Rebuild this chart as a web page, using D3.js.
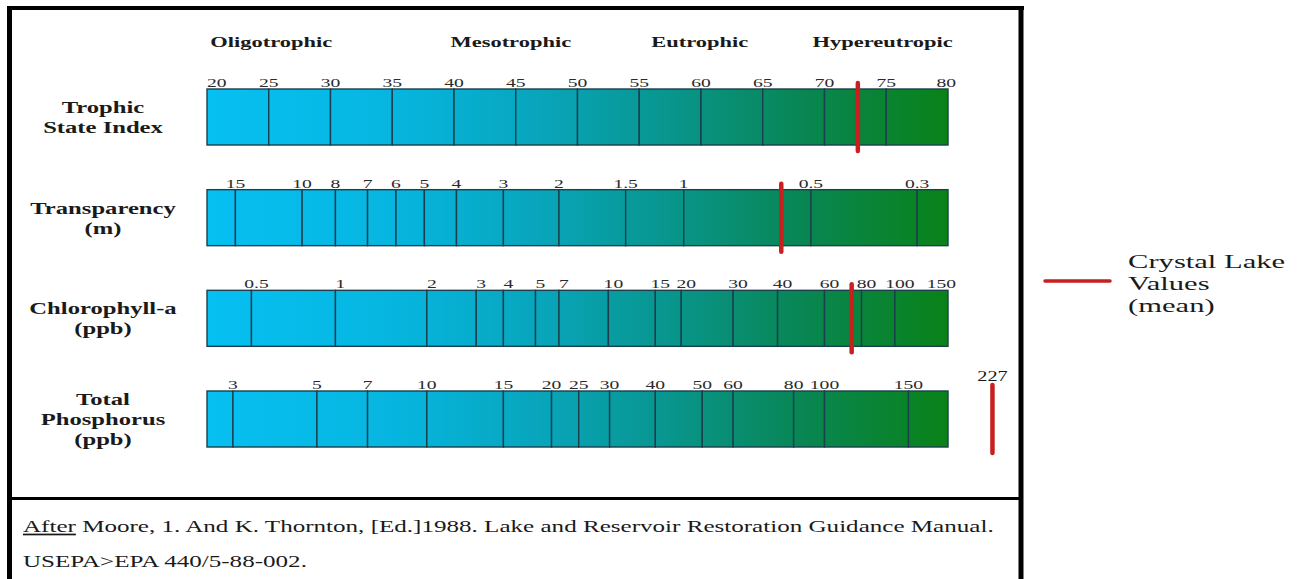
<!DOCTYPE html>
<html><head><meta charset="utf-8">
<script src="https://cdn.jsdelivr.net/npm/d3@7/dist/d3.min.js"></script>
<style>html,body{margin:0;padding:0;background:#fff;overflow:hidden}</style>
</head><body>
<svg id="chart" width="1301" height="579"></svg>
<script>
// ---------------- data ----------------
const rowNames = ["Trophic State Index", "Transparency (m)", "Chlorophyll-a (ppb)", "Total Phosphorus (ppb)"];
const rowLabelLines = [["Trophic", "State Index"], ["Transparency", "(m)"], ["Chlorophyll-a", "(ppb)"], ["Total", "Phosphorus", "(ppb)"]];
const trophicClasses = ["Oligotrophic", "Mesotrophic", "Eutrophic", "Hypereutropic"];
const trophicClassTSI = [25.2, 44.6, 59.9, 74.7];

const tsiTickLabels = ["20", "25", "30", "35", "40", "45", "50", "55", "60", "65", "70", "75", "80"];
const tsiTickTSI = [20, 25, 30, 35, 40, 45, 50, 55, 60, 65, 70, 75, 80];

const transparencyTickLabels = ["15", "10", "8", "7", "6", "5", "4", "3", "2", "1.5", "1", "0.5", "0.3"];
const transparencyTickTSI = [22.3, 27.7, 30.4, 33.0, 35.3, 37.6, 40.2, 44.0, 48.5, 53.9, 58.6, 68.9, 77.5];

const chlorophyllTickLabels = ["0.5", "1", "2", "3", "4", "5", "7", "10", "15", "20", "30", "40", "60", "80", "100", "150"];
const chlorophyllTickTSI = [23.6, 30.4, 37.8, 41.8, 44.0, 46.6, 48.5, 52.5, 56.3, 58.4, 62.6, 66.2, 70.0, 73.0, 75.7, 80];

const phosphorusTickLabels = ["3", "5", "7", "10", "15", "20", "25", "30", "40", "50", "60", "80", "100", "150"];
const phosphorusTickTSI = [22.1, 28.9, 33.0, 37.8, 44.0, 47.9, 50.1, 52.6, 56.3, 60.1, 62.6, 67.5, 70.0, 76.8];

const crystalLakeTSI = [72.7, 66.5, 72.2, 83.6];
const crystalLakeLabels = ["", "", "", "227"];

const legendLines = ["Crystal Lake", "Values", "(mean)"];
const footerLine1 = ["After", " Moore, 1. And K. Thornton, [Ed.]1988. Lake and Reservoir Restoration Guidance Manual."];
const footerLine2 = "USEPA>EPA 440/5-88-002.";

// ---------------- layout / style ----------------
const SX = 1.45;           // horizontal stretch of the original artwork
const FONT = "'Liberation Serif', 'Times New Roman', serif";
const RED = "#c8201e";
const tickLabelsByRow = [tsiTickLabels, transparencyTickLabels, chlorophyllTickLabels, phosphorusTickLabels];
const tickTSIByRow = [tsiTickTSI, transparencyTickTSI, chlorophyllTickTSI, phosphorusTickTSI];
const labelShift = [0, 0, 5, 0];

const svg = d3.select("#chart");
const x = d3.scaleLinear().domain([20, 80]).range([207, 948]);
const y = d3.scalePoint().domain(rowNames).range([117, 419]);
const barH = 56;

function stext(g, px, py, txt, sx = SX) {
  return g.append("text")
    .attr("transform", `translate(${px},${py}) scale(${sx},1)`)
    .attr("font-family", FONT)
    .text(txt);
}

// gradient
const defs = svg.append("defs");
const grad = defs.append("linearGradient").attr("id", "tsiGrad")
  .attr("gradientUnits", "userSpaceOnUse")
  .attr("x1", x(20)).attr("x2", x(80)).attr("y1", 0).attr("y2", 0);
[[0, "#06c0f2"], [0.25, "#06b6e0"], [0.45, "#08a5bb"], [0.62, "#08968e"], [0.8, "#088654"], [1, "#0a8218"]]
  .forEach(([o, c]) => grad.append("stop").attr("offset", o).attr("stop-color", c));

// frame
const frame = svg.append("g").attr("fill", "none").attr("stroke", "#000");
frame.append("line").attr("x1", 7).attr("x2", 1024).attr("y1", 8).attr("y2", 8).attr("stroke-width", 4);
frame.append("line").attr("x1", 9.5).attr("x2", 9.5).attr("y1", 6).attr("y2", 590).attr("stroke-width", 5);
frame.append("line").attr("x1", 1021).attr("x2", 1021).attr("y1", 6).attr("y2", 590).attr("stroke-width", 5);
frame.append("line").attr("x1", 9).attr("x2", 1022).attr("y1", 498.5).attr("y2", 498.5).attr("stroke-width", 3);

// trophic class headers
const hdr = svg.append("g");
trophicClasses.forEach((c, i) => {
  stext(hdr, x(trophicClassTSI[i]), 47, c)
    .attr("text-anchor", "middle").attr("font-weight", "bold").attr("font-size", 15.5).attr("fill", "#1a1a1a");
});

// rows
rowNames.forEach((name, r) => {
  const g = svg.append("g");
  const cy = y(name);
  const top = cy - barH / 2;
  const labels = tickLabelsByRow[r];
  const tsis = tickTSIByRow[r];
  const bounds = Array.from(new Set([20, ...tsis, 80])).sort((a, b) => a - b);
  const segs = d3.pairs(bounds);

  g.selectAll("rect.seg").data(segs).join("rect")
    .attr("class", "seg")
    .attr("x", d => x(d[0])).attr("width", d => x(d[1]) - x(d[0]))
    .attr("y", top).attr("height", barH)
    .attr("fill", "url(#tsiGrad)")
    .attr("stroke", "#1b3f4c").attr("stroke-width", 1.4);

  // tick labels
  labels.forEach((lab, i) => {
    const v = tsis[i];
    let anchor = "middle", px = x(v) + labelShift[r];
    if (v <= 20) { anchor = "start"; px = x(v); }
    else if (v >= 80) { anchor = "end"; px = x(v) + 8; }
    stext(g, px, top - 2, lab)
      .attr("text-anchor", anchor).attr("font-size", 13.5).attr("fill", "#2a2a2a");
  });

  // row label
  const lines = rowLabelLines[r];
  const L = 20;
  lines.forEach((ln, j) => {
    stext(g, 103, cy - (lines.length - 1) * L / 2 + 6 + j * L, ln)
      .attr("text-anchor", "middle").attr("font-weight", "bold").attr("font-size", 17).attr("fill", "#1a1a1a");
  });

  // Crystal Lake mean marker
  g.append("line")
    .attr("x1", x(crystalLakeTSI[r])).attr("x2", x(crystalLakeTSI[r]))
    .attr("y1", top - 6).attr("y2", top + barH + 6)
    .attr("stroke", RED).attr("stroke-width", 4.5).attr("stroke-linecap", "round");
  if (crystalLakeLabels[r]) {
    stext(g, x(crystalLakeTSI[r]), top - 10, crystalLakeLabels[r])
      .attr("text-anchor", "middle").attr("font-size", 14).attr("fill", "#1a1a1a");
  }
});

// legend
const lg = svg.append("g");
lg.append("line").attr("x1", 1045).attr("x2", 1110).attr("y1", 281).attr("y2", 281)
  .attr("stroke", RED).attr("stroke-width", 3.5).attr("stroke-linecap", "round");
legendLines.forEach((t, i) => {
  stext(lg, 1128, 268 + i * 22, t, 1.7).attr("font-size", 18).attr("fill", "#1a1a1a");
});

// footer
const ft = svg.append("g");
const t1 = stext(ft, 23, 532, "").attr("font-size", 17.3).attr("fill", "#1a1a1a");
t1.append("tspan").attr("text-decoration", "underline").text(footerLine1[0]);
t1.append("tspan").attr("xml:space", "preserve").text(footerLine1[1]);
stext(ft, 23, 567, footerLine2).attr("font-size", 17.3).attr("fill", "#1a1a1a");
</script>
</body></html>
